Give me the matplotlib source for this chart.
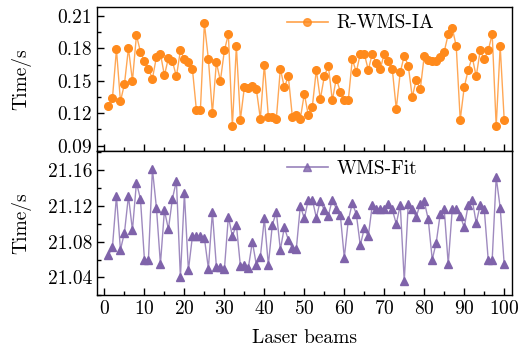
import numpy as np
import matplotlib
matplotlib.use('Agg')
from matplotlib import pyplot as plt
from matplotlib.ticker import MultipleLocator, FormatStrFormatter
from matplotlib.lines import Line2D

plt.rcParams['font.family'] = 'cmr10'
plt.rcParams['axes.formatter.use_mathtext'] = True
plt.rcParams['mathtext.fontset'] = 'cm'

beams = np.arange(1, 101)

# R-WMS-IA time per beam (s)
t_rwms = [0.127, 0.134, 0.179, 0.131, 0.147, 0.180, 0.150, 0.192, 0.177, 0.168,
          0.161, 0.152, 0.172, 0.175, 0.155, 0.171, 0.168, 0.154, 0.178, 0.170,
          0.167, 0.161, 0.123, 0.123, 0.203, 0.170, 0.120, 0.167, 0.150, 0.178,
          0.193, 0.108, 0.182, 0.114, 0.144, 0.143, 0.145, 0.142, 0.115, 0.165,
          0.117, 0.117, 0.115, 0.161, 0.144, 0.154, 0.117, 0.118, 0.115, 0.138,
          0.118, 0.126, 0.160, 0.133, 0.154, 0.164, 0.132, 0.152, 0.140, 0.132,
          0.132, 0.170, 0.158, 0.175, 0.175, 0.160, 0.175, 0.166, 0.161, 0.175,
          0.168, 0.161, 0.124, 0.158, 0.173, 0.164, 0.135, 0.151, 0.142, 0.173,
          0.169, 0.168, 0.168, 0.172, 0.177, 0.193, 0.199, 0.182, 0.114, 0.144,
          0.160, 0.172, 0.154, 0.178, 0.170, 0.178, 0.193, 0.108, 0.182, 0.114]

# WMS-Fit time per beam (s)
t_wms = [21.065, 21.074, 21.131, 21.071, 21.090, 21.131, 21.093, 21.146, 21.128, 21.060,
         21.060, 21.161, 21.118, 21.055, 21.115, 21.094, 21.128, 21.148, 21.040, 21.134,
         21.048, 21.086, 21.086, 21.086, 21.084, 21.050, 21.113, 21.052, 21.052, 21.049,
         21.108, 21.086, 21.099, 21.053, 21.054, 21.051, 21.080, 21.054, 21.063, 21.106,
         21.054, 21.099, 21.113, 21.071, 21.096, 21.082, 21.073, 21.072, 21.120, 21.106,
         21.127, 21.127, 21.107, 21.126, 21.115, 21.109, 21.127, 21.117, 21.110, 21.062,
         21.104, 21.123, 21.111, 21.076, 21.095, 21.086, 21.121, 21.117, 21.117, 21.117,
         21.122, 21.116, 21.100, 21.121, 21.036, 21.122, 21.116, 21.108, 21.122, 21.125,
         21.105, 21.060, 21.079, 21.111, 21.116, 21.055, 21.116, 21.116, 21.109, 21.096,
         21.121, 21.127, 21.101, 21.121, 21.117, 21.060, 21.060, 21.152, 21.118, 21.055]

orange = '#ff8a1c'
purple = '#7f63aa'
fs = 14

fig = plt.figure(figsize=(5.18, 3.52), dpi=100)
gs = fig.add_gridspec(2, 1, left=0.187, right=0.988, top=0.979, bottom=0.161, hspace=0)
ax1 = fig.add_subplot(gs[0])
ax2 = fig.add_subplot(gs[1], sharex=ax1)

ax1.plot(beams, t_rwms, '-', color=orange, lw=1.0, alpha=0.75)
ax1.plot(beams, t_rwms, 'o', color=orange, ms=5.5, mec=orange)
ax2.plot(beams, t_wms, '-', color=purple, lw=1.0, alpha=0.75)
ax2.plot(beams, t_wms, '^', color=purple, ms=6, mec=purple)

# legend proxies so the handle shows line + marker
h1 = Line2D([], [], color=orange, lw=1.2, alpha=0.8, marker='o', ms=5.5, mfc=orange, mec=orange)
h2 = Line2D([], [], color=purple, lw=1.2, alpha=0.8, marker='^', ms=6, mfc=purple, mec=purple)
ax1.legend([h1], ['R-WMS-IA'], loc='center left', bbox_to_anchor=(0.458, 0.889),
           frameon=False, fontsize=fs, borderpad=0, borderaxespad=0,
           handlelength=2.1, handletextpad=0.45)
ax2.legend([h2], ['WMS-Fit'], loc='center left', bbox_to_anchor=(0.458, 0.879),
           frameon=False, fontsize=fs, borderpad=0, borderaxespad=0,
           handlelength=2.1, handletextpad=0.45)

ax1.set_xlim(-1.9, 101.9)
ax1.set_ylim(0.0848, 0.2178)
ax2.set_ylim(21.020, 21.181)

ax1.yaxis.set_major_locator(MultipleLocator(0.03))
ax1.yaxis.set_minor_locator(MultipleLocator(0.015))
ax1.yaxis.set_major_formatter(FormatStrFormatter('%.2f'))
ax2.yaxis.set_major_locator(MultipleLocator(0.04))
ax2.yaxis.set_minor_locator(MultipleLocator(0.02))
ax2.yaxis.set_major_formatter(FormatStrFormatter('%.2f'))
ax2.xaxis.set_major_locator(MultipleLocator(10))
ax2.xaxis.set_minor_locator(MultipleLocator(5))

for ax in (ax1, ax2):
    ax.tick_params(which='major', direction='in', length=5, width=1, labelsize=fs)
    ax.tick_params(which='minor', direction='in', length=3, width=1)
    for s in ax.spines.values():
        s.set_linewidth(1.0)
plt.setp(ax1.get_xticklabels(), visible=False)

ax1.set_ylabel('Time/s', fontsize=fs, labelpad=12)
ax2.set_ylabel('Time/s', fontsize=fs, labelpad=12)
ax2.set_xlabel('Laser beams', fontsize=fs, labelpad=8)
fig.align_ylabels([ax1, ax2])

plt.savefig('out.png', dpi=100)
